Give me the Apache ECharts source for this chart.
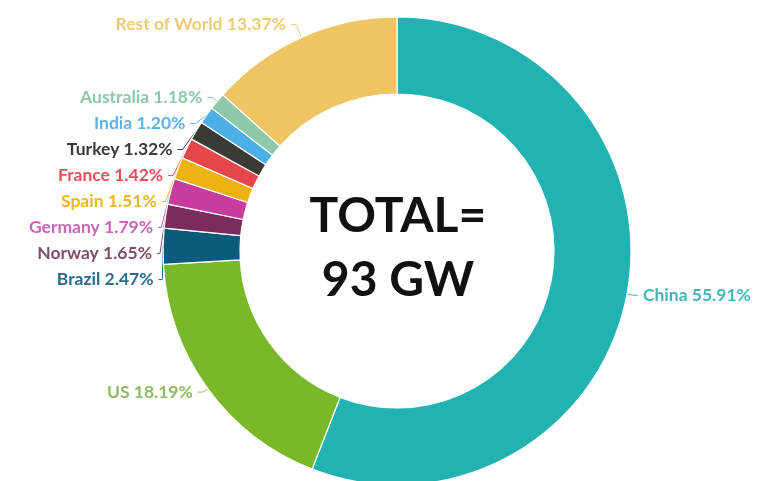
<!DOCTYPE html>
<html><head><meta charset="utf-8">
<script src="https://cdn.jsdelivr.net/npm/echarts@6/dist/echarts.min.js"></script>
<style>html,body{margin:0;padding:0;background:#fff}#c{width:766px;height:481px}</style>
</head><body><div id="c"></div>
<script>
const categories = ['China','US','Brazil','Norway','Germany','Spain','France','Turkey','India','Australia','Rest of World'];
const shares = [55.91,18.19,2.47,1.65,1.79,1.51,1.42,1.32,1.20,1.18,13.37];
const sliceColors = ['#22b2b1','#79b829','#0d5b7b','#7b2b5f','#c73d9f','#efb213','#e6474b','#3b3a35','#4cb0e6','#8ec8a8','#efc563'];
const labelColors = ['#45b6b5','#8dba62','#2c6b8c','#7e4d6d','#c766b6','#e7b822','#e64f5c','#3a3a3a','#5cb3e4','#8ec8a6','#e9cb78'];
const centerLines = ['TOTAL=','93 GW'];

const chart = echarts.init(document.getElementById('c'));
chart.setOption({
  animation:false,
  graphic:[
    {type:'text', x:398, y:217, style:{text:centerLines[0], font:'bold 48px Lato', fill:'#111', textAlign:'center', textVerticalAlign:'middle'}},
    {type:'text', x:398, y:281, style:{text:centerLines[1], font:'bold 48px Lato', fill:'#111', textAlign:'center', textVerticalAlign:'middle'}}
  ],
  series:[{
    type:'pie',
    center:[397,251],
    radius:[157,234],
    startAngle:90,
    clockwise:true,
    avoidLabelOverlap:true,
    itemStyle:{borderColor:'#fff', borderWidth:1.2},
    label:{
      formatter: p => p.name + ' ' + p.value.toFixed(2) + '%',
      fontFamily:'Lato', fontWeight:'bold', fontSize:17.5, minMargin:8
    },
    labelLine:{length:6, length2:5, lineStyle:{width:1}},
    data: categories.map((n,i)=>({
      name:n, value:shares[i],
      itemStyle:{color:sliceColors[i]},
      label:{color:labelColors[i]},
      labelLine:{length: n === 'Rest of World' ? 14 : 6, lineStyle:{color:labelColors[i]}}
    }))
  }]
});
</script></body></html>
